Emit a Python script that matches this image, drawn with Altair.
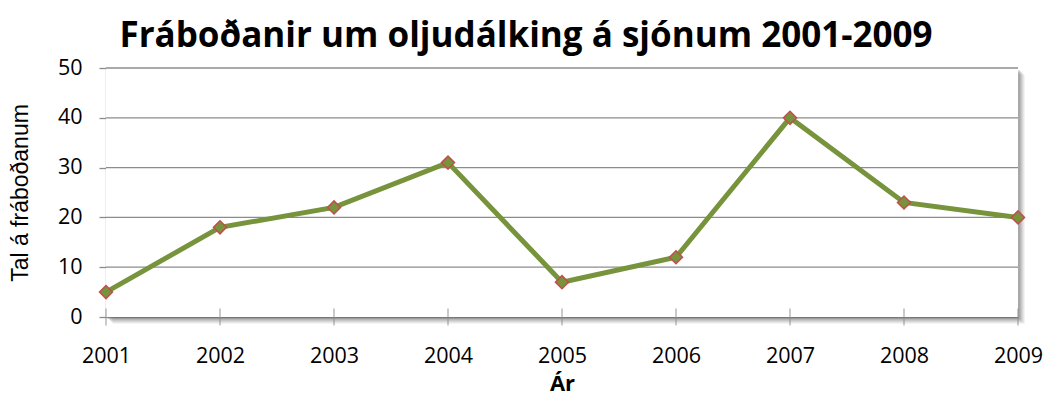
import altair as alt
import pandas as pd

years = [2001, 2002, 2003, 2004, 2005, 2006, 2007, 2008, 2009]
counts = [5, 18, 22, 31, 7, 12, 40, 23, 20]
y_ticks = [0, 10, 20, 30, 40, 50]
grid_vals = [10, 20, 30, 40, 50]

df = pd.DataFrame({"year": years, "count": counts})
grid_df = pd.DataFrame({"v": grid_vals})
frame_df = pd.DataFrame({"x0": [2001], "x1": [2009], "y0": [0], "y1": [50]})
tick_df = pd.DataFrame({"year": years, "z": [0] * len(years)})

FONT = "Open Sans"
W, H = 912, 249
xs = alt.Scale(domain=[2001, 2009], nice=False, zero=False)
ys = alt.Scale(domain=[0, 50], nice=False)

shadow_layers = []
for k, op in [(7, 0.08), (6, 0.10), (5, 0.12), (4, 0.15), (3, 0.18), (2, 0.2)]:
    shadow_layers.append(
        alt.Chart(frame_df).mark_rect(
            fill="#6e6e6e", opacity=op,
            xOffset=k, x2Offset=k, yOffset=k, y2Offset=k,
        ).encode(
            x=alt.X("x0:Q", scale=xs), x2="x1:Q",
            y=alt.Y("y0:Q", scale=ys), y2="y1:Q",
        )
    )

bg = alt.Chart(frame_df).mark_rect(fill="white").encode(
    x=alt.X("x0:Q", scale=xs), x2="x1:Q",
    y=alt.Y("y0:Q", scale=ys), y2="y1:Q",
)

grid = alt.Chart(grid_df).mark_rule(color="#8c8c8c", strokeWidth=1.3).encode(
    y=alt.Y("v:Q", scale=ys),
    x=alt.value(0), x2=alt.value(W),
)

xticks = alt.Chart(tick_df).mark_tick(
    color="#8c8c8c", orient="vertical", size=17, thickness=1.3
).encode(
    x=alt.X("year:Q", scale=xs),
    y=alt.Y("z:Q", scale=ys),
)

line = alt.Chart(df).mark_line(color="#77933C", strokeWidth=5).encode(
    x=alt.X(
        "year:Q", scale=xs,
        axis=alt.Axis(
            title="Ár", values=years, format="d", grid=False, labelFlush=False,
            ticks=False, labelFontSize=21.5, labelFont=FONT, labelColor="#000",
            labelPadding=28, domainColor="#8c8c8c", domainWidth=1.3,
            titleFont=FONT, titleFontSize=22, titleFontWeight="bold",
            titleColor="#000", titlePadding=7,
        ),
    ),
    y=alt.Y(
        "count:Q", scale=ys,
        axis=alt.Axis(
            title="Tal á fráboðanum", values=y_ticks, grid=False,
            tickSize=7, tickColor="#8c8c8c", tickWidth=1.3, labelFlush=False,
            labelFontSize=21.5, labelFont=FONT, labelColor="#000", labelPadding=17,
            domainColor="#8c8c8c", domainWidth=1.3,
            titleFont="Liberation Sans", titleFontSize=23, titleFontWeight="normal",
            titleColor="#000", titlePadding=25,
        ),
    ),
)

points = alt.Chart(df).mark_point(
    shape="diamond", filled=True, fill="#77933C", stroke="#C0504D",
    strokeWidth=1.5, size=170, opacity=1,
).encode(
    x=alt.X("year:Q", scale=xs),
    y=alt.Y("count:Q", scale=ys),
)

chart = alt.layer(*shadow_layers, bg, grid, xticks, line, points).properties(
    width=W, height=H,
    title=alt.Title(
        "Fráboðanir um oljudálking á sjónum 2001-2009",
        font=FONT, fontSize=35, fontWeight="bold", color="#000",
        anchor="middle", frame="bounds", offset=3,
    ),
    autosize=alt.AutoSizeParams(type="none"),
    padding={"left": 98, "top": 60, "right": 25, "bottom": 94},
).configure_view(stroke=None)

chart.save("out.html", embed_options={"renderer": "svg", "actions": False})
